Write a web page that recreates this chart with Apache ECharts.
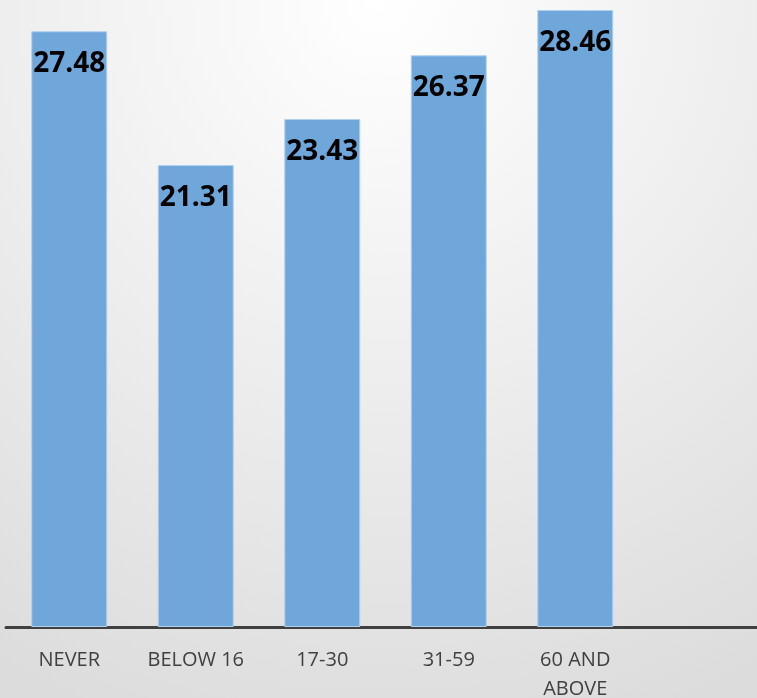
<!DOCTYPE html>
<html lang="en">
<head>
    <meta charset="UTF-8">
    <title>Bar chart</title>
    <script src="https://cdn.jsdelivr.net/npm/echarts@6/dist/echarts.min.js"></script>
    <style>
        html, body { margin: 0; padding: 0; }
        #main { width: 757px; height: 698px; }
    </style>
</head>
<body>
<div id="main"></div>
<script>
    // 类别与数值 (last category is an empty slot, as in the original)
    const categories = ['NEVER', 'BELOW 16', '17-30', '31-59', '60 AND\nABOVE', ''];
    const values = [27.48, 21.31, 23.43, 26.37, 28.46, null];

    const chart = echarts.init(document.getElementById('main'));

    const option = {
        backgroundColor: {
            type: 'radial', x: 0.5, y: 0, r: 1.1,
            colorStops: [
                { offset: 0, color: '#ffffff' },
                { offset: 1, color: '#dcdcdc' }
            ]
        },
        grid: {
            left: 6, right: -8, top: 0, bottom: 71,
            containLabel: false,
            outerBoundsMode: 'none'
        },
        xAxis: {
            type: 'category',
            data: categories,
            axisTick: { show: false },
            axisLine: { lineStyle: { color: '#404040', width: 3 } },
            axisLabel: {
                color: '#404040',
                fontSize: 20,
                fontFamily: 'Open Sans',
                margin: 19,
                lineHeight: 29,
                interval: 0
            }
        },
        yAxis: {
            type: 'value',
            min: 0,
            max: 28.92,
            show: false,
            splitLine: { show: false }
        },
        series: [{
            type: 'bar',
            data: values,
            barWidth: 76,
            itemStyle: {
                color: '#70a7db',
                borderColor: '#b4d0ec',
                borderWidth: 1
            },
            label: {
                show: true,
                position: 'insideTop',
                distance: 19,
                color: '#000',
                fontSize: 28,
                fontWeight: 'bold',
                fontFamily: 'Open Sans',
                formatter: p => p.value.toFixed(2)
            }
        }]
    };

    chart.setOption(option);
</script>
</body>
</html>
